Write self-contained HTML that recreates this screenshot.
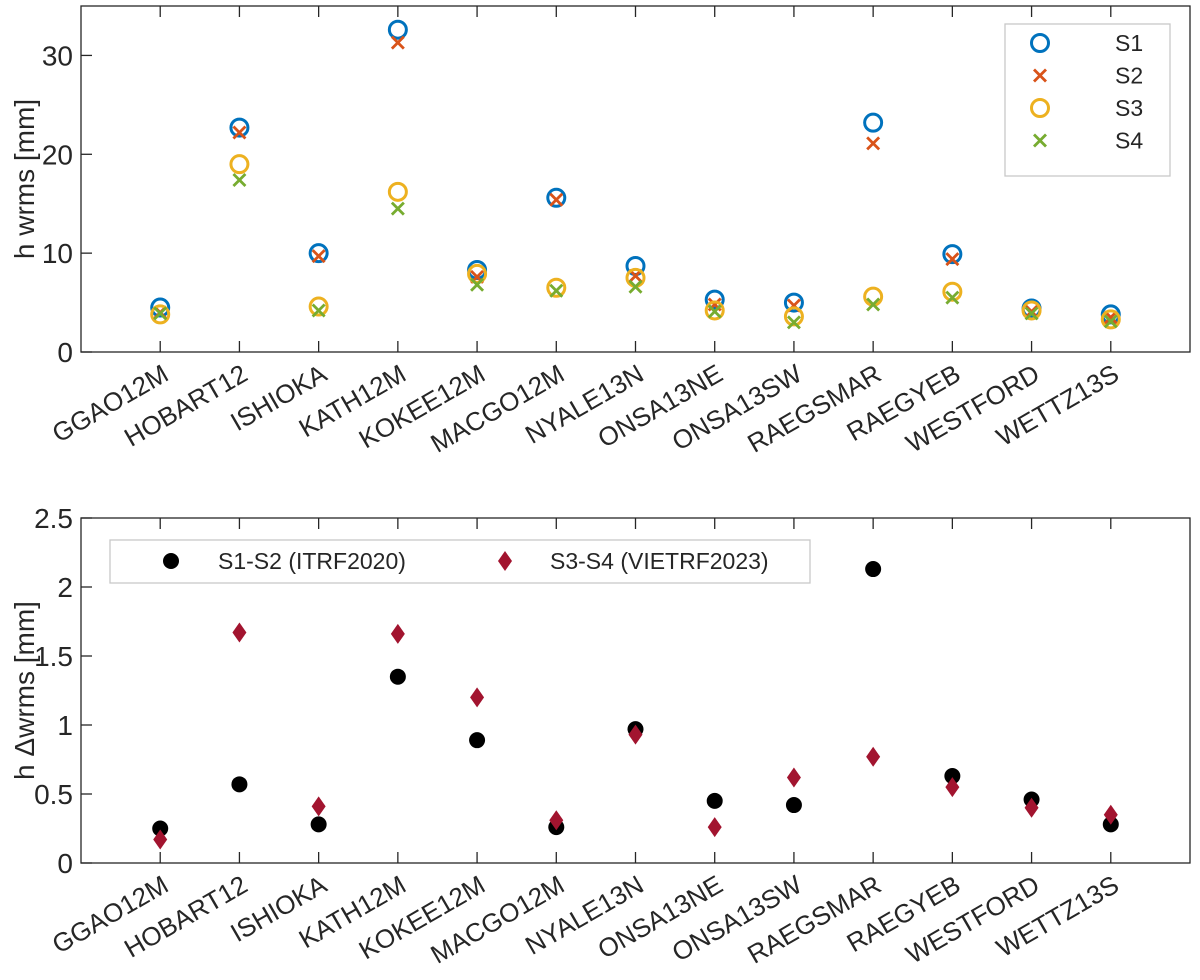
<!DOCTYPE html>
<html><head><meta charset="utf-8"><style>
body{margin:0;background:#fff;font-family:"Liberation Sans",Arial,sans-serif;}
svg text{font-family:"Liberation Sans",Arial,sans-serif;fill:#262626;}
</style></head><body>
<svg id="c" width="1200" height="975" xmlns="http://www.w3.org/2000/svg"></svg>
<script>
const categories=["GGAO12M","HOBART12","ISHIOKA","KATH12M","KOKEE12M","MACGO12M","NYALE13N","ONSA13NE","ONSA13SW","RAEGSMAR","RAEGYEB","WESTFORD","WETTZ13S"];
const s1=[4.5,22.7,10.0,32.6,8.3,15.6,8.7,5.3,5.0,23.2,9.9,4.4,3.8];
const s2=[4.0,22.2,9.7,31.3,7.6,15.4,7.7,4.8,4.7,21.1,9.4,4.1,3.5];
const s3=[3.8,19.0,4.6,16.2,7.9,6.5,7.5,4.2,3.6,5.6,6.1,4.2,3.3];
const s4=[3.9,17.4,4.2,14.5,6.8,6.2,6.6,4.1,3.0,4.8,5.5,3.9,3.1];
const d12=[0.25,0.57,0.28,1.35,0.89,0.26,0.97,0.45,0.42,2.13,0.63,0.46,0.28];
const d34=[0.17,1.67,0.41,1.66,1.2,0.31,0.93,0.26,0.62,0.77,0.55,0.40,0.35];
const topTicks=[0,10,20,30];
const botTicks=[0,0.5,1,1.5,2,2.5];

const svg=document.getElementById('c');
const NS="http://www.w3.org/2000/svg";
function mk(tag,attrs,parent){const e=document.createElementNS(NS,tag);for(const k in attrs)e.setAttribute(k,attrs[k]);(parent||svg).appendChild(e);return e;}
const L=81,R=1190;
const xs=i=>L+(R-L)*(i+1)/14;
const T={top:6,bot:352,max:35};
const B={top:518,bot:863,max:2.5};
const yT=v=>T.bot-(T.bot-T.top)*v/T.max;
const yB=v=>B.bot-(B.bot-B.top)*v/B.max;

function axes(P,ticks,ys,fmt,title,name){
  const g=mk('g',{});
  
  
  const r=mk('rect',{x:L,y:P.top,width:R-L,height:P.bot-P.top,fill:'none',stroke:'#262626','stroke-width':1.3},g);
  
  ticks.forEach(t=>{
    const y=ys(t);
    mk('line',{x1:L,x2:L+11,y1:y,y2:y,stroke:'#262626','stroke-width':1.3},g);
    const tx=mk('text',{x:L-8,y:y+10,'text-anchor':'end','font-size':28},g);
    tx.textContent=fmt(t);
    
  });
  categories.forEach((c,i)=>{
    const x=xs(i);
    mk('line',{x1:x,x2:x,y1:P.bot,y2:P.bot-11,stroke:'#262626','stroke-width':1.3},g);
    mk('line',{x1:x,x2:x,y1:P.top,y2:P.top+11,stroke:'#262626','stroke-width':1.3},g);
    const ax=x+10,ay=P.bot+27;
    const tx=mk('text',{x:ax,y:ay,'text-anchor':'end','font-size':26,transform:`rotate(-30 ${ax} ${ay})`},g);
    tx.textContent=c;
    
  });
  const cy=(P.top+P.bot)/2;
  const yt=mk('text',{x:34,y:cy,'text-anchor':'middle','font-size':28,transform:`rotate(-90 34 ${cy})`},g);
  yt.textContent=title;
  
}
axes(T,topTicks,yT,v=>String(v),'h wrms [mm]','top-axes');
axes(B,botTicks,yB,v=>String(v),'h \u0394wrms [mm]','bottom-axes');

function circle(x,y,col){const e=mk('circle',{cx:x,cy:y,r:8.5,fill:'none',stroke:col,'stroke-width':3});return e;}
function cross(x,y,col){const g=mk('g',{});const s=6;mk('line',{x1:x-s,y1:y-s,x2:x+s,y2:y+s,stroke:col,'stroke-width':2.8},g);mk('line',{x1:x-s,y1:y+s,x2:x+s,y2:y-s,stroke:col,'stroke-width':2.8},g);return g;}
function dot(x,y){return mk('circle',{cx:x,cy:y,r:8,fill:'#000'});}
function diamond(x,y){return mk('polygon',{points:`${x},${y-10} ${x+7},${y} ${x},${y+10} ${x-7},${y}`,fill:'#a2142f'});}

const series=[[s1,circle,'#0072bd','S1'],[s2,cross,'#d95319','S2'],[s3,circle,'#edb120','S3'],[s4,cross,'#77ac30','S4']];
series.forEach(([arr,fn,col,nm])=>{
  arr.forEach((v,i)=>{const e=fn(xs(i),yT(v),col);
    
    });
});
d12.forEach((v,i)=>{const e=dot(xs(i),yB(v));
  
  });
d34.forEach((v,i)=>{const e=diamond(xs(i),yB(v));
  
  });

const lg=mk('g',{});


mk('rect',{x:1005,y:24,width:165,height:152,fill:'#fff',stroke:'#c8c8c8','stroke-width':1.3},lg);
series.forEach(([arr,fn,col,nm],k)=>{
  const y=43+k*32.5;
  const m=fn(1040,y,col);lg.appendChild(m);
  const t=mk('text',{x:1115,y:y+8,'font-size':23},lg);t.textContent=nm;
  
});
const lb=mk('g',{});


mk('rect',{x:110,y:540,width:700,height:43,fill:'#fff',stroke:'#c8c8c8','stroke-width':1.3},lb);
lb.appendChild(dot(171,561));
let t1=mk('text',{x:218,y:569,'font-size':23},lb);t1.textContent='S1-S2 (ITRF2020)';

lb.appendChild(diamond(505,561));
let t2=mk('text',{x:550,y:569,'font-size':23},lb);t2.textContent='S3-S4 (VIETRF2023)';

</script>
</body></html>
